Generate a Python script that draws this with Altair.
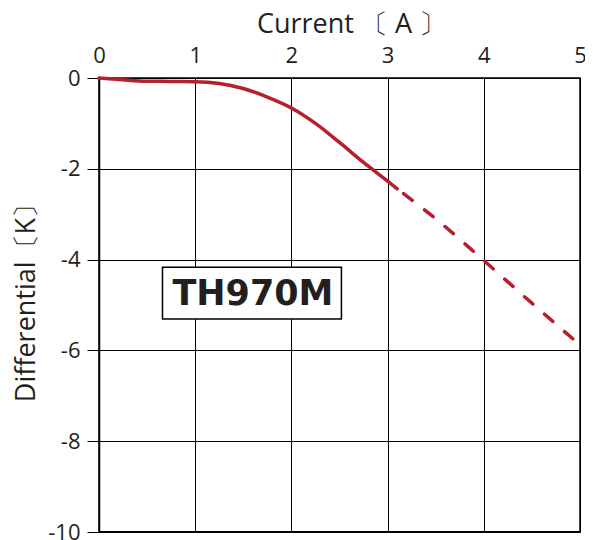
import altair as alt
import pandas as pd

# Curve values
cur_solid = [0.0, 0.25, 0.5, 0.75, 1.0, 1.25, 1.5, 1.75, 2.0, 2.25, 2.5, 2.75, 3.0, 3.1]
diff_solid = [0.0, -0.04, -0.07, -0.075, -0.08, -0.12, -0.23, -0.42, -0.66, -1.0, -1.42, -1.86, -2.27, -2.44]
cur_dash = [3.1, 3.5, 4.0, 4.5, 5.0]
diff_dash = [-2.44, -3.1, -4.02, -4.96, -5.88]

x_ticks = [0, 1, 2, 3, 4, 5]
y_ticks = [0, -2, -4, -6, -8, -10]

label_text = ["TH970M"]
label_x = [1.6]
label_y = [-4.75]
box_x = [0.66]
box_x2 = [2.52]
box_y = [-4.17]
box_y2 = [-5.31]

solid = pd.DataFrame({"cur": cur_solid, "diff": diff_solid})
dash = pd.DataFrame({"cur": cur_dash, "diff": diff_dash})
label = pd.DataFrame({"t": label_text, "x": label_x, "y": label_y})
box = pd.DataFrame({"x": box_x, "x2": box_x2, "y": box_y, "y2": box_y2})
bottom = pd.DataFrame({"x": [0], "x2": [5], "y": [-10]})

RED = "#b51f2e"
TXT = "#231f20"
FONT = "Open Sans"
LBL = "datum.value < 0 ? '-' + abs(datum.value) : '' + datum.value"

xs = alt.Scale(domain=[0, 5], nice=False, zero=False)
ys = alt.Scale(domain=[-10, 0], nice=False)

xax = alt.Axis(
    orient="top", values=x_ticks, title="Current 〔 A 〕", grid=True,
    gridColor="black", gridWidth=1, gridOpacity=1, tickSize=0,
    labelFontSize=22, labelPadding=11, labelFlush=False, labelColor=TXT,
    labelExpr=LBL,
    labelFont=FONT, titleFont=FONT, titleFontSize=27, titleFontWeight="normal",
    titleColor=TXT, titlePadding=6, titleX=252, domainColor="black", domainWidth=1.2,
)
yax = alt.Axis(
    orient="left", values=y_ticks, title="Differential〔K〕", grid=True,
    gridColor="black", gridWidth=1, gridOpacity=1, tickSize=12,
    tickColor="black", tickWidth=1, labelFontSize=22, labelPadding=7,
    labelFlush=False, labelColor=TXT, labelFont=FONT, labelExpr=LBL,
    titleFont=FONT, titleFontSize=27, titleFontWeight="normal", titleColor=TXT,
    titlePadding=7, titleY=218, domainColor="black", domainWidth=1.5,
)

base_solid = alt.Chart(solid).mark_line(
    color=RED, strokeWidth=3.5, interpolate="monotone", strokeCap="round"
).encode(
    x=alt.X("cur:Q", scale=xs, axis=xax),
    y=alt.Y("diff:Q", scale=ys, axis=yax),
)

dashed = alt.Chart(dash).mark_line(
    color=RED, strokeWidth=3.5, interpolate="monotone", strokeCap="round",
    strokeDash=[11, 15.5], strokeDashOffset=-8,
).encode(
    x=alt.X("cur:Q", scale=xs),
    y=alt.Y("diff:Q", scale=ys),
)

bottom_rule = alt.Chart(bottom).mark_rule(color="black", strokeWidth=2.2).encode(
    x=alt.X("x:Q", scale=xs), x2="x2:Q", y=alt.Y("y:Q", scale=ys)
)

rect = alt.Chart(box).mark_rect(fill="white", stroke="black", strokeWidth=1.5).encode(
    x=alt.X("x:Q", scale=xs), x2="x2:Q",
    y=alt.Y("y:Q", scale=ys), y2="y2:Q",
)

text = alt.Chart(label).mark_text(
    font="DejaVu Sans", fontWeight="bold", fontSize=35, color=TXT,
    align="center", baseline="middle",
).encode(
    x=alt.X("x:Q", scale=xs), y=alt.Y("y:Q", scale=ys), text="t:N"
)

chart = alt.layer(base_solid, dashed, bottom_rule, rect, text).properties(
    width=481, height=454,
    autosize=alt.AutoSizeParams(type="none"),
    padding={"left": 91, "top": 70, "right": 5, "bottom": 10},
    background="white",
).configure_view(stroke="black", strokeWidth=1.5)

chart.save("out.html", embed_options={"renderer": "svg", "actions": False})
